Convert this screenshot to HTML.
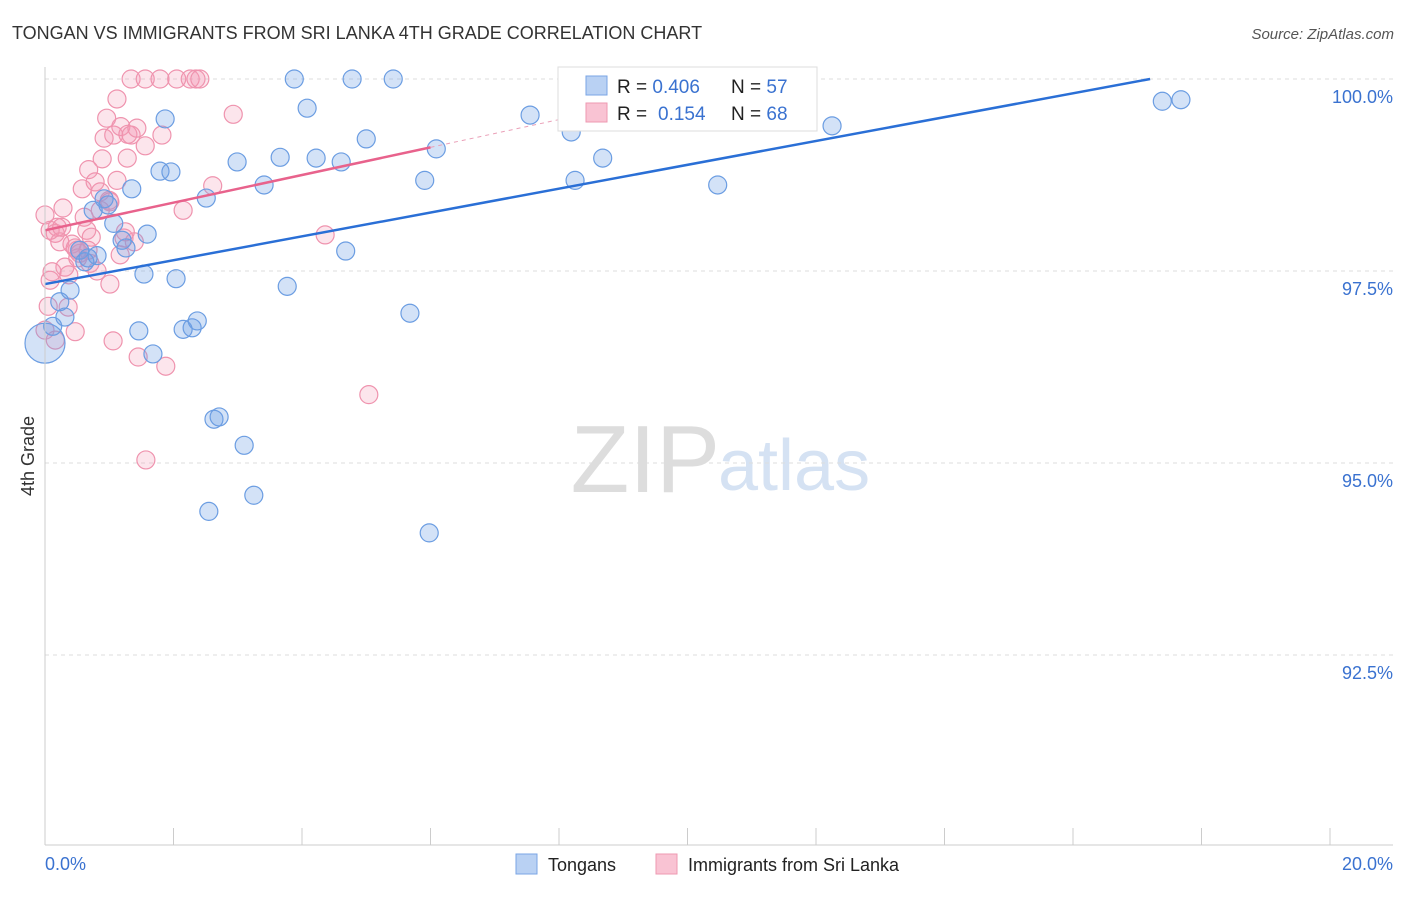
<!DOCTYPE html>
<html><head><meta charset="utf-8"><style>
body{margin:0;background:#fff;font-family:"Liberation Sans",sans-serif}
svg text{font-family:"Liberation Sans",sans-serif}
</style></head><body>
<svg id="c" width="1406" height="892" xmlns="http://www.w3.org/2000/svg">
<text x="12" y="39" font-size="18" fill="#333">TONGAN VS IMMIGRANTS FROM SRI LANKA 4TH GRADE CORRELATION CHART</text>
<text x="1394" y="39" font-size="15" fill="#555" font-style="italic" text-anchor="end">Source: ZipAtlas.com</text>
<text x="34" y="456" font-size="18" fill="#333" text-anchor="middle" transform="rotate(-90 34 456)">4th Grade</text>
<text x="720" y="492" font-size="96" fill="#ddd" text-anchor="end" font-family="Liberation Serif">ZIP</text>
<text x="718" y="490" font-size="72" fill="#d5e2f3">atlas</text>
<g id="grid"></g><g id="pink"></g><g id="blue"></g><g id="lines"></g>
<line x1="45" y1="67" x2="45" y2="845" stroke="#ccc"/>
<line x1="45" y1="845" x2="1393" y2="845" stroke="#ccc"/>
<text x="45" y="870" font-size="18" fill="#3a72d0">0.0%</text>
<text x="1393" y="870" font-size="18" fill="#3a72d0" text-anchor="end">20.0%</text>
<g>
<rect x="558" y="67" width="259" height="64" fill="#fff" stroke="#ddd"/>
<rect x="586" y="76" width="21" height="19" fill="#b9d1f3" stroke="#7aa5e5"/>
<rect x="586" y="103" width="21" height="19" fill="#f9c3d3" stroke="#ee98b2"/>
<text x="617" y="93" font-size="19" fill="#222">R = <tspan fill="#3a72d0">0.406</tspan><tspan x="731">N = </tspan><tspan fill="#3a72d0">57</tspan></text>
<text x="617" y="120" font-size="19" fill="#222">R = <tspan fill="#3a72d0" x="658">0.154</tspan><tspan x="731">N = </tspan><tspan fill="#3a72d0">68</tspan></text>
</g>
<g>
<rect x="516" y="854" width="21" height="20" fill="#b9d1f3" stroke="#7aa5e5"/>
<text x="548" y="871" font-size="18" fill="#222">Tongans</text>
<rect x="656" y="854" width="21" height="20" fill="#f9c3d3" stroke="#ee98b2"/>
<text x="688" y="871" font-size="18" fill="#222">Immigrants from Sri Lanka</text>
</g>
</svg>
<script>
const yTicks=[100,97.5,95,92.5];
const yTickLabels=["100.0%","97.5%","95.0%","92.5%"];
const xTicks=[0,2,4,6,8,10,12,14,16,18,20];
const blueX=[0,.12,.23,.31,.39,.54,.62,.67,.75,.81,.92,.98,1.07,1.2,1.26,1.35,1.46,1.54,1.59,1.68,1.79,1.87,1.96,2.04,2.15,2.29,2.37,2.51,2.55,2.63,2.71,2.99,3.1,3.25,3.41,3.66,3.77,3.88,4.08,4.22,4.61,4.68,4.78,5.0,5.42,5.68,5.91,5.98,6.09,7.55,8.19,8.25,8.68,10.47,12.25,17.39,17.68];
const blueY=[96.56,96.78,97.1,96.9,97.25,97.77,97.62,97.67,98.29,97.7,98.44,98.36,98.12,97.9,97.8,98.57,96.72,97.46,97.98,96.42,98.8,99.48,98.79,97.4,96.74,96.76,96.85,98.45,94.37,95.57,95.6,98.92,95.23,94.58,98.62,98.98,97.3,100,99.62,98.97,98.92,97.76,100,99.22,100,96.95,98.68,94.09,99.09,99.53,99.31,98.68,98.97,98.62,99.39,99.71,99.73];
const pinkX=[0,.05,.08,.11,.16,.19,.23,.28,.31,.36,.37,.42,.47,.5,.54,.58,.61,.65,.68,.7,.72,.78,.81,.86,.89,.92,.96,1.0,1.01,1.06,1.07,1.12,1.12,1.17,1.18,1.23,1.28,1.29,1.34,1.34,1.39,1.43,1.45,1.56,1.56,1.57,1.79,1.82,1.88,2.05,2.15,2.26,2.35,2.41,2.61,2.93,4.36,5.04,0,.08,.26,.47,.86,.67,.16,1.01,1.25,.51];
const pinkY=[96.73,97.04,97.38,97.49,97.99,98.07,97.88,98.32,97.55,97.03,97.45,97.85,96.71,97.77,97.73,98.57,98.2,98.03,98.82,97.6,97.94,98.66,97.5,98.53,98.96,99.23,99.49,98.42,97.33,96.59,99.27,99.74,98.68,97.71,99.38,97.93,98.97,99.28,99.27,100,97.88,99.36,96.38,99.13,100,95.04,100,99.27,96.26,100,98.29,100,100,100,98.61,99.54,97.97,95.89,98.23,98.03,98.07,97.8,98.29,97.77,96.6,98.4,98.01,97.67];
const blueTrendX=[0,17.2], blueTrendY=[97.33,100];
const pinkTrendX=[0,6.0], pinkTrendY=[98.03,99.11];
const pinkDashX=[6.0,8.6], pinkDashY=[99.11,99.58];
const sx=v=>45+v*64.25, sy=v=>79+(100-v)*76.8;
const NS="http://www.w3.org/2000/svg";
function mk(t,a,p){const e=document.createElementNS(NS,t);for(const k in a)e.setAttribute(k,a[k]);p.appendChild(e);return e;}
const grid=document.getElementById('grid');
yTicks.forEach((v,i)=>{
 const l=mk('line',{x1:45,x2:1393,y1:sy(v),y2:sy(v),stroke:'#ddd','stroke-dasharray':'4,4'},grid);
 
 
 const t=mk('text',{x:1393,y:sy(v)+24,'font-size':18,fill:'#3a72d0','text-anchor':'end'},grid);
 t.textContent=yTickLabels[i];
 
 
});
xTicks.forEach(v=>{
 const l=mk('line',{x1:sx(v),x2:sx(v),y1:828,y2:845,stroke:'#ccc'},grid);
 
 
});
const pg=document.getElementById('pink');
pinkX.forEach((x,i)=>{
 const c=mk('circle',{cx:sx(x),cy:sy(pinkY[i]),r:9,fill:'rgba(244,150,180,0.25)',stroke:'#ef93ae','stroke-width':1.2},pg);
 
 
});
const bg=document.getElementById('blue');
blueX.forEach((x,i)=>{
 const c=mk('circle',{cx:sx(x),cy:sy(blueY[i]),r:i===0?20:9,fill:'rgba(110,160,230,0.3)',stroke:'#6b9de2','stroke-width':1.2},bg);
 
 
});
const lg=document.getElementById('lines');
const bl=mk('line',{x1:sx(blueTrendX[0]),y1:sy(blueTrendY[0]),x2:sx(blueTrendX[1]),y2:sy(blueTrendY[1]),stroke:'#2a6fd6','stroke-width':2.5},lg);


const pl=mk('line',{x1:sx(pinkTrendX[0]),y1:sy(pinkTrendY[0]),x2:sx(pinkTrendX[1]),y2:sy(pinkTrendY[1]),stroke:'#e8628c','stroke-width':2.5},lg);


const pd=mk('line',{x1:sx(pinkDashX[0]),y1:sy(pinkDashY[0]),x2:sx(pinkDashX[1]),y2:sy(pinkDashY[1]),stroke:'#eaa0b8','stroke-width':1,'stroke-dasharray':'4,4'},lg);


</script>
</body></html>
